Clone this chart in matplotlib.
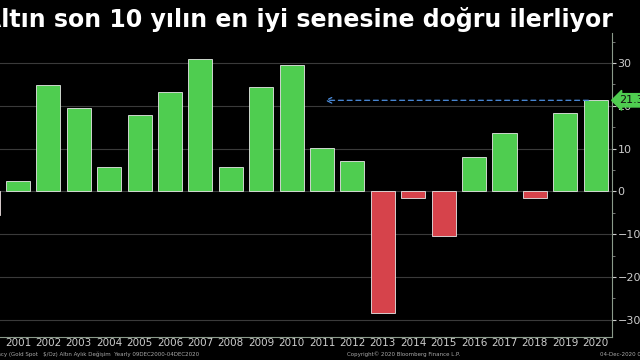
import matplotlib.pyplot as plt

years = list(range(2000, 2021))
changes = [-5.5, 2.5, 24.8, 19.5, 5.6, 17.9, 23.2, 31.0, 5.8, 24.4, 29.5,
           10.1, 7.1, -28.3, -1.5, -10.4, 8.1, 13.6, -1.6, 18.3, 21.3]
yticks = [-30, -20, -10, 0, 10, 20, 30]
last_value = 21.3
title = "Altın son 10 yılın en iyi senesine doğru ilerliyor"

green = "#4fcd50"
red = "#d6434b"
colors = [green if v >= 0 else red for v in changes]

fig = plt.figure(figsize=(6.4, 3.6), dpi=100, facecolor="black")
ax = fig.add_axes([0.0, 0.064, 0.956, 0.844], facecolor="black")

# horizontal grid
for t in yticks:
    ax.axhline(t, color="#3a3a3a", lw=0.8, zorder=0)

ax.bar(years, changes, width=0.79, color=colors, edgecolor="#e8e8e8",
       linewidth=0.6, zorder=2)

# dashed arrow to current year level
ax.annotate("", xy=(2011.0, last_value), xytext=(2019.85, last_value),
            arrowprops=dict(arrowstyle="->", color="#4d8fe0", lw=0.9,
                            linestyle=(0, (4, 3))), zorder=3)

ax.set_xlim(2000.41, 2020.53)
ax.set_ylim(-34, 37)

ax.yaxis.tick_right()
ax.set_yticks(yticks)
ax.set_yticks(range(-30, 36, 5), minor=True)
ax.tick_params(axis="y", colors="#cccccc", labelsize=8, length=3,
               direction="out", pad=1)
ax.tick_params(axis="y", which="minor", color="#888888", length=2)
ax.set_xticks(years[1:])
ax.set_xticklabels([str(y) for y in years[1:]])
ax.tick_params(axis="x", colors="#cccccc", labelsize=7.5, length=0, pad=1)

for side in ["top", "left"]:
    ax.spines[side].set_visible(False)
ax.spines["right"].set_color("#8a9a8a")
ax.spines["bottom"].set_color("#8a9a8a")
ax.spines["right"].set_linewidth(0.8)
ax.spines["bottom"].set_linewidth(0.8)

# value tag on right axis
ax.annotate(f"{last_value}", xy=(1.0, last_value),
            xycoords=("axes fraction", "data"), xytext=(5, 0),
            textcoords="offset points", va="center", ha="left",
            fontsize=8, color="#111111",
            bbox=dict(boxstyle="larrow,pad=0.15", fc=green, ec=green),
            annotation_clip=False, zorder=5)

fig.text(-0.027, 0.945, title, color="white", fontsize=17, fontweight="bold",
         va="center", ha="left")

fig.text(-0.01, 0.008, "ency (Gold Spot   $/Oz) Altın Aylık Değişim  Yearly 09DEC2000-04DEC2020",
         color="#aaaaaa", fontsize=4, ha="left", va="bottom")
fig.text(0.63, 0.008, "Copyright© 2020 Bloomberg Finance L.P.",
         color="#aaaaaa", fontsize=4, ha="center", va="bottom")
fig.text(0.937, 0.008, "04-Dec-2020 0",
         color="#aaaaaa", fontsize=4, ha="left", va="bottom")

fig.savefig("out.png", dpi=100, facecolor="black")
